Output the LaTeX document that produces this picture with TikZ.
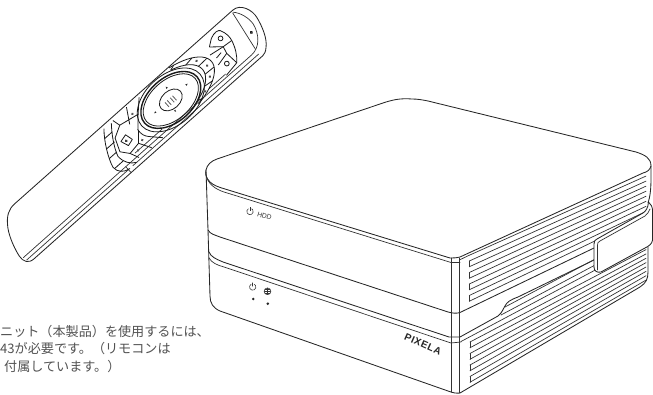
\documentclass[tikz,border=0pt]{standalone}
\usepackage{fontspec}
\newfontfamily\cjkfont{Noto Sans CJK JP}
\newfontfamily\logofont[LetterSpace=6]{Liberation Sans}
\setsansfont{Liberation Sans}
\usetikzlibrary{calc}
\tikzset{
  boxline/.style={line width=.85pt,line join=round,line cap=round,black!85},
  thinline/.style={line width=.7pt,line join=round,line cap=round,black!80},
  keyline/.style={line width=.8pt,line join=round,black!90},
  notetext/.style={anchor=base west,inner sep=0pt,black!68,font=\cjkfont\fontsize{13.1}{15}\selectfont},
  powericon/.pic={
    \draw[thinline,line width=.55pt] (-1.6,-2.77) arc[start angle=120,end angle=420,radius=3.2pt];
    \draw[thinline,line width=.55pt] (0,-4.2) -- (0,-.8);
  }
}
\begin{document}
\begin{tikzpicture}[x=1pt,y=-1pt]
  \useasboundingbox (0,0) rectangle (653,395);
  % remote control
  \begin{scope}[shift={(170,102)},rotate=41.6]
    \draw[boxline] (-184,-27) -- (108,-27) .. controls (118,-27) and (123,-14) .. (121,-5)
      .. controls (119,5) and (115,17) .. (108,23) .. controls (105,26) and (102,27) .. (100,27)
      -- (-206,27) .. controls (-213,27) and (-216,22) .. (-215,15)
      .. controls (-213,3) and (-208,-10) .. (-203,-16) .. controls (-198,-23) and (-192,-27) .. (-184,-27) -- cycle;
    \draw[thinline] (-213,19) -- (92,19) .. controls (104,19) and (112,8) .. (114,-3)
      .. controls (115,-10) and (112,-20) .. (107,-25);
    \draw[thinline] (-212,23) -- (-74,23);
    \draw[thinline] (-70,23) -- (98,23);
    \draw[thinline] (-76,19) -- (-76,27);
    \draw[thinline] (106,-25) -- (99,17);
    \draw[keyline,fill=black!60] (107,2) circle (1.2pt);
    \draw[thinline] (-60,15) -- (-24,15) (38,16) -- (60,16);
    % wheel
    \draw[keyline] (2,-1) ellipse [x radius=39pt,y radius=25pt];
    \draw[line width=1.4pt,black!90] (2,-1) ellipse [x radius=35pt,y radius=22pt];
    \draw[keyline] (2,-1) ellipse [x radius=32.5pt,y radius=19.8pt];
    \draw[keyline] (2,-1) ellipse [x radius=13pt,y radius=9pt];
    \foreach \markx/\marky/\markang in {7/-13/90,24/-2/0,-18/-2/180,-2/10/-90}
      \fill[black!85,shift={(\markx,\marky)},rotate=\markang] (1.3,0) -- (-.8,1) -- (-.8,-1) -- cycle;
    \draw[black!65,line width=.8pt] (3,-3) -- (3,3) (6,-3) -- (6,3) (-1,-3) -- (-1,3) (-4,-3) -- (-4,3);
    % small keys round the wheel
    \draw[keyline] plot[domain=-62:70,samples=25] ({46*cos(\x)},{-3+23*sin(\x)});
    \draw[keyline] plot[domain=-68:70,samples=25] ({58*cos(\x)},{-3+25*sin(\x)});
    \foreach \t in {-62,-38,-12,14,38,62}
      \draw[keyline] ({46*cos(\t)},{-3+23*sin(\t)}) -- ({58*cos(\t)},{-3+25*sin(\t)});
    \foreach \t in {-25,1,26,50}
      \fill[black!70] ({52*cos(\t)},{-3+24*sin(\t)}) circle (1.4pt);
    % large keys at the top
    \draw[keyline] (66,-15) -- (73,-20) .. controls (79,-23) and (84,-22) .. (85,-20)
      .. controls (88,-14) and (88,-9) .. (87,-5) .. controls (85,3) and (81,10) .. (76,15) -- (60,17.5);
    \draw[keyline] (66,-15) -- (76.5,-6) -- (87,-5);
    \draw[keyline] (61,-8.5) -- (76.5,-6) -- (74.7,1.3) -- (60.7,4.4);
    \draw[keyline] (74.7,1.3) -- (76,15);
    \draw[keyline] (80,-14) circle (2.4pt) (68,9) circle (2.4pt);
    \draw[keyline] (64,-2) -- (71,-3);
    % keys at the lower end
    \draw[keyline] (-67,-24) .. controls (-76,-14) and (-84,2) .. (-86,11) .. controls (-86,18) and (-81,22) .. (-75,23);
    \draw[keyline] (-58,-23) .. controls (-64,-16) and (-72,-4) .. (-75,6) .. controls (-75,14) and (-71,20) .. (-65,23);
    \draw[keyline] (-53,-16) -- (-65,-9.5) -- (-70.5,4) -- (-64,12) -- (-51,10) -- (-42,0);
    \draw[keyline] (-20,-24) -- (-32,-12) -- (-42.5,-.5) .. controls (-43,5) and (-42,8) .. (-39,11.5) -- (-29,22);
    \draw[keyline] (-53,-16) -- (-32,-12) (-36,-25) -- (-45,-10);
    \draw[keyline] (-51,10) -- (-44,22) (-55,-24) -- (-53,-16);
    \draw[keyline] (-64,12) -- (-60,21);
    \draw[keyline] (-73,-16) -- (-63,-16) (-79,-7) -- (-68,-7) (-83,2) -- (-73,2) (-85,13) -- (-74,13);
    \draw[keyline] (-63,-3) -- (-55,-5) -- (-53,3) -- (-60,5) -- cycle;
    \fill[black!75] (-58.5,0) circle (1.5pt);
    \fill[black!65] (-46,10) circle (1.4pt) (-36,-16) circle (1.4pt) (-56,15) circle (1.3pt);
  \end{scope}
  % top of the box
  \draw[boxline] (210,182) .. controls (206,178) and (205,174) .. (206,170)
    .. controls (207,165) and (211,161) .. (217,159) -- (383,103)
    .. controls (392,100) and (400,98) .. (412,99) .. controls (418,99) and (423,100) .. (428,101)
    -- (636,152) .. controls (645,155) and (651,158) .. (651,166) .. controls (650,170) and (647,172) .. (643,173)
    -- (460,257) .. controls (456,258) and (453,258) .. (450,258) -- (225,189) .. controls (218,187) and (213,185) .. (210,182);
  \draw[thinline] (206,175) .. controls (208,184) and (215,189) .. (224,192) -- (451,262.5) -- (460,262.5);
  % outline of the front
  \draw[boxline] (206,170) -- (208,230) -- (210,296) .. controls (210,303) and (213,308) .. (220,311) -- (448,391)
    .. controls (453,393) and (457,393.5) .. (460,393) -- (640,287) .. controls (646,283) and (648,279) .. (648,272) -- (648,247);
  \draw[boxline] (651,166) -- (651,178) .. controls (651,190) and (650,197) .. (648,203);
  % gaps between the units
  \draw[boxline] (208,230) .. controls (210,234) and (215,235) .. (220,237) -- (448,312)
    .. controls (453,313.5) and (457,313.5) .. (460,312.5) -- (594,248);
  \draw[boxline] (209,252) .. controls (211,257) and (216,259) .. (223,262) -- (449,337)
    -- (460,337) -- (498,316) .. controls (502,313) and (503,309) .. (505,306)
    .. controls (507,302) and (510,300) .. (518,297) -- (594,260);
  \draw[thinline] (209,258) .. controls (212,263) and (217,265) .. (224,267) -- (451,343) -- (461,342);
  % front corner
  \draw[thinline] (451.5,258) -- (451.5,392);
  \draw[thinline] (459.3,258) -- (459.3,393);
  % vents
  \foreach \k in {-1,...,7}
    \draw[thinline] (469.3,{261+5.75*\k}) -- (646,{261+5.75*\k-(.452+.004*\k)*176.7});
  \foreach \k in {0,2,4,6}
    \draw[thinline] (469.3,{261+5.75*\k}) -- (469.3,{261+5.75*(\k+1)});
  \draw[thinline] (460,259.7) -- (469.3,255.2);
  \foreach \k in {0,...,7}
    \draw[thinline] (470,{342+5.75*\k}) -- (646,{342+5.75*\k-(.525+.0079*\k)*176});
  \foreach \k in {0,2,4,6}
    \draw[thinline] (470,{342+5.75*\k}) -- (470,{342+5.75*(\k+1)});
  \draw[thinline] (461,341.5) -- (646,243);
  \draw[thinline] (501,315) -- (646,238);
  \draw[thinline] (505,307) -- (646,232);
  % strap with its grip
  \fill[white] (594.5,240) -- (643,213) .. controls (646,211) and (648,208) .. (648.5,203)
    -- (653,210) -- (653,241) .. controls (652,245) and (649,246) .. (645,248) -- (601,272)
    .. controls (597,273) and (594,271) .. (594,267) -- cycle;
  \draw[boxline] (594,267) -- (594,244) .. controls (594,241) and (595,240) .. (597,239)
    -- (643,213) .. controls (646,211) and (648,208) .. (648.5,202);
  \draw[thinline] (597.5,270) -- (597.5,245) .. controls (597.5,243) and (598,242) .. (600,241) -- (645,216)
    .. controls (647,214.5) and (649,212) .. (650,209);
  \draw[boxline] (648.5,202) .. controls (651,204) and (652.5,207) .. (652.6,211) -- (652.6,240)
    .. controls (652,244) and (649,246) .. (645,248) -- (601,272) .. controls (597,273) and (594,271) .. (594,267);
  % front labels
  \pic at (250,211.5) {powericon};
  \node[inner sep=0pt,rotate=-17,font=\sffamily\fontsize{6.8}{7}\selectfont,black!80] (hddlabel) at (264.5,216) {HDD};
  \pic at (252.7,287) {powericon};
  \draw[thinline,line width=.55pt] (267.5,291.3) circle (3.4pt);
  \draw[thinline,line width=.4pt] (264.4,291.3) -- (270.6,291.3) (267.5,288.1) -- (267.5,294.5)
    (265,289.5) -- (270,289.5) (265,293.1) -- (270,293.1);
  \fill[black!85] (253.3,299) circle (1.4pt) (267.8,303.7) circle (1.4pt);
  \node[inner sep=0pt,rotate=-24,font=\logofont\bfseries\fontsize{10}{11}\selectfont,black!85] (brandlabel) at (423,344) {PIXELA};
  % note text
  \node[notetext] (noteone) at (0,336) {ニット（本製品）を使用するには、};
  \node[notetext] (notetwo) at (0,353) {43が必要です。（リモコンは};
  \node[notetext] (notethree) at (4,371) {付属しています。）};
\end{tikzpicture}
\end{document}
